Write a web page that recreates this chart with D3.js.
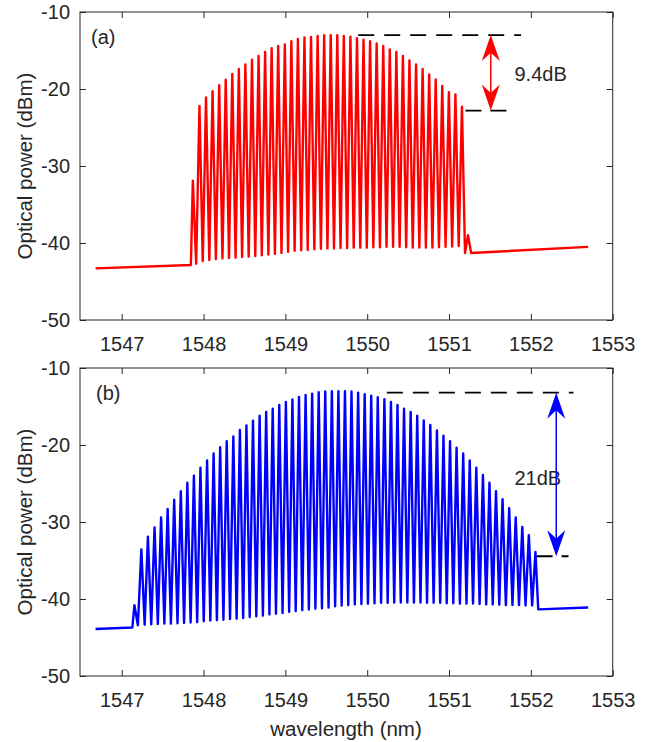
<!DOCTYPE html>
<html>
<head>
<meta charset="utf-8">
<script src="https://cdn.jsdelivr.net/npm/d3@7"></script>
<style>
  body { margin: 0; background: #fff; }
  text { font-family: "Liberation Sans", Arial, Helvetica, sans-serif; fill: #262626; }
</style>
</head>
<body>
<svg id="chart" width="647" height="742"></svg>
<script>
// axis ticks
const xTicks = [1547, 1548, 1549, 1550, 1551, 1552, 1553];
const yTicks = [-50, -40, -30, -20, -10];

// panel (a): comb line wavelengths (nm), peak power and trough power between neighbours (dBm)
const combA_wl = [1547.869,
  1547.950, 1548.030, 1548.110, 1548.191, 1548.271, 1548.351, 1548.431, 1548.511, 1548.592, 1548.672,
  1548.752, 1548.832, 1548.912, 1548.993, 1549.073, 1549.153, 1549.233, 1549.313, 1549.394, 1549.474,
  1549.554, 1549.634, 1549.714, 1549.795, 1549.875, 1549.955, 1550.035, 1550.115, 1550.196, 1550.276,
  1550.356, 1550.436, 1550.516, 1550.597, 1550.677, 1550.757, 1550.837, 1550.917, 1550.998, 1551.078,
  1551.158, 1551.232];
const combA_peak = [-31.9,
  -22.2, -21.1, -20.3, -19.5, -18.8, -18.05, -17.4, -16.8, -16.2, -15.7,
  -15.2, -14.7, -14.4, -14.2, -13.8, -13.5, -13.3, -13.25, -13.1, -13.0,
  -13.0, -13.0, -13.1, -13.2, -13.4, -13.6, -13.8, -14.1, -14.4, -14.85,
  -15.2, -15.7, -16.3, -16.8, -17.4, -18.1, -18.75, -19.6, -20.4, -20.7,
  -22.3, -39.0];
const combA_trough = [-42.7,
  -42.35, -42.2, -42.1, -42.0, -41.95, -41.9, -41.8, -41.75, -41.7, -41.6,
  -41.5, -41.4, -41.3, -41.15, -41.0, -40.95, -40.9, -40.8, -40.75, -40.7,
  -40.7, -40.65, -40.65, -40.6, -40.6, -40.6, -40.55, -40.55, -40.5, -40.5,
  -40.5, -40.55, -40.6, -40.6, -40.6, -40.6, -40.55, -40.5, -40.45, -40.4,
  -41.3];
const floorA_left = [[1546.68, -43.3], [1547.845, -42.85]];
const floorA_right = [[1551.27, -41.3], [1552.70, -40.5]];

// panel (b)
const combB_wl = [1547.155,
  1547.240, 1547.320, 1547.401, 1547.481, 1547.561, 1547.641, 1547.722, 1547.802, 1547.882, 1547.962,
  1548.043, 1548.123, 1548.203, 1548.283, 1548.364, 1548.444, 1548.524, 1548.604, 1548.685, 1548.765,
  1548.845, 1548.925, 1549.006, 1549.086, 1549.166, 1549.247, 1549.327, 1549.407, 1549.487, 1549.568,
  1549.648, 1549.728, 1549.808, 1549.889, 1549.969, 1550.049, 1550.129, 1550.210, 1550.290, 1550.370,
  1550.450, 1550.531, 1550.611, 1550.691, 1550.771, 1550.852, 1550.932, 1551.012, 1551.092, 1551.173,
  1551.253, 1551.333, 1551.414, 1551.494, 1551.574, 1551.654, 1551.735, 1551.815, 1551.895, 1551.975,
  1552.056];
const combB_peak = [-40.8,
  -33.55, -31.9, -30.7, -29.4, -28.3, -27.1, -26.0, -24.9, -24.0, -22.95,
  -22.0, -21.1, -20.3, -19.5, -18.9, -18.05, -17.45, -16.85, -16.2, -15.7,
  -15.3, -14.8, -14.4, -14.1, -13.75, -13.5, -13.35, -13.15, -13.05, -13.0,
  -13.0, -13.0, -13.05, -13.2, -13.4, -13.6, -13.8, -14.05, -14.4, -14.8,
  -15.3, -15.7, -16.2, -16.8, -17.4, -18.1, -18.8, -19.5, -20.35, -21.1,
  -22.0, -22.95, -23.9, -24.9, -26.0, -27.05, -28.2, -29.4, -30.65, -31.7,
  -33.9];
const combB_trough = [-43.4,
  -43.35, -43.3, -43.25, -43.2, -43.2, -43.15, -43.1, -43.05, -43.0, -42.9,
  -42.8, -42.75, -42.7, -42.6, -42.55, -42.45, -42.35, -42.25, -42.15, -42.0,
  -41.9, -41.8, -41.65, -41.55, -41.45, -41.35, -41.25, -41.2, -41.1, -40.95,
  -40.85, -40.8, -40.7, -40.65, -40.6, -40.55, -40.5, -40.5, -40.45, -40.45,
  -40.45, -40.45, -40.45, -40.5, -40.5, -40.5, -40.55, -40.55, -40.6, -40.6,
  -40.6, -40.65, -40.7, -40.7, -40.75, -40.8, -40.8, -40.8, -40.85, -40.85];
const floorB_left = [[1546.68, -43.9], [1547.13, -43.7]];
const floorB_right = [[1552.09, -41.35], [1552.70, -41.1]];

// flatness annotations: [top level, bottom level] in dBm
const flatA = [-13.0, -22.8];
const flatB = [-13.2, -34.45];

const svg = d3.select('#chart');
const left = 80, right = 612.7, plotH = 308;
const x = d3.scaleLinear().domain([1546.49, 1553]).range([left, right]);

function trace(floorL, wl, peak, trough, floorR) {
  const pts = floorL.slice();
  wl.forEach((w, i) => {
    pts.push([w, peak[i]]);
    if (i < trough.length) pts.push([(w + wl[i + 1]) / 2, trough[i]]);
  });
  return pts.concat(floorR);
}

function arrowHead(cx, tipY, dir, len, w) {
  // concave-back arrow head, dir = 1 points up, -1 points down
  const b = tipY + dir * len, m = tipY + dir * len * 0.68;
  return `M${cx},${tipY}L${cx - w / 2},${b}L${cx},${m}L${cx + w / 2},${b}Z`;
}

function drawPanel(top, opts) {
  const y = d3.scaleLinear().domain([-50, -10]).range([top + plotH, top]);
  const g = svg.append('g');

  // spectrum
  const line = d3.line().x(d => x(d[0])).y(d => y(d[1]));
  g.append('path')
    .attr('d', line(opts.data))
    .attr('fill', 'none')
    .attr('stroke', opts.color)
    .attr('stroke-width', 2.4)
    .attr('stroke-linejoin', 'round');

  // axes, MATLAB style with inward ticks on all four sides
  const axB = g.append('g').attr('transform', `translate(0,${top + plotH})`)
    .call(d3.axisBottom(x).tickValues(xTicks).tickSize(-6).tickSizeOuter(0).tickPadding(17).tickFormat(d3.format('d')));
  const axT = g.append('g').attr('transform', `translate(0,${top})`)
    .call(d3.axisTop(x).tickValues(xTicks).tickSize(-6).tickSizeOuter(0).tickFormat(''));
  const axL = g.append('g').attr('transform', `translate(${left},0)`)
    .call(d3.axisLeft(y).tickValues(yTicks).tickSize(-6).tickSizeOuter(0).tickPadding(10));
  const axR = g.append('g').attr('transform', `translate(${right},0)`)
    .call(d3.axisRight(y).tickValues(yTicks).tickSize(-6).tickSizeOuter(0).tickFormat(''));
  [axB, axT, axL, axR].forEach(a => {
    a.select('.domain').remove();
    a.selectAll('.tick line').attr('stroke', '#262626');
    a.selectAll('text').attr('font-size', 20).attr('fill', '#262626');
  });
  axL.selectAll('text').text(d => d);

  g.append('rect')
    .attr('x', left).attr('y', top)
    .attr('width', right - left).attr('height', plotH)
    .attr('fill', 'none').attr('stroke', '#262626').attr('stroke-width', 1);

  g.append('text')
    .attr('transform', `translate(24,${top + plotH / 2}) rotate(-90)`)
    .attr('text-anchor', 'middle').attr('dominant-baseline', 'central')
    .attr('font-size', 20.5)
    .text('Optical power (dBm)');

  g.append('text')
    .attr('x', opts.tagX).attr('y', top + 25)
    .attr('dominant-baseline', 'central')
    .attr('font-size', 20).attr('fill', '#000')
    .text(opts.tag);

  // flatness annotation
  const a = opts.ann;
  g.append('line')
    .attr('x1', x(a.topFrom)).attr('x2', x(a.topTo))
    .attr('y1', y(a.levels[0])).attr('y2', y(a.levels[0]))
    .attr('stroke', '#000').attr('stroke-width', 1.8).attr('stroke-dasharray', '16,10');
  g.append('line')
    .attr('x1', x(a.botFrom)).attr('x2', x(a.botTo))
    .attr('y1', y(a.levels[1])).attr('y2', y(a.levels[1]))
    .attr('stroke', '#000').attr('stroke-width', 1.8).attr('stroke-dasharray', '16,9');

  g.append('text')
    .attr('x', x(a.textX)).attr('y', y(a.textY))
    .attr('dominant-baseline', 'central')
    .attr('font-size', 20).attr('fill', '#000')
    .text(a.text);

  const ax = x(a.arrowX), y1 = y(a.levels[0]), y2 = y(a.levels[1]);
  g.append('line')
    .attr('x1', ax).attr('x2', ax).attr('y1', y1 + 10).attr('y2', y2 - 10)
    .attr('stroke', opts.color).attr('stroke-width', 1.5);
  g.append('path').attr('d', arrowHead(ax, y1, 1, 26, 18)).attr('fill', opts.color);
  g.append('path').attr('d', arrowHead(ax, y2, -1, 26, 18)).attr('fill', opts.color);
}

drawPanel(12, {
  color: '#ff0000', tag: '(a)', tagX: 91,
  data: trace(floorA_left, combA_wl, combA_peak, combA_trough, floorA_right),
  ann: { levels: flatA, topFrom: 1549.89, topTo: 1551.88, botFrom: 1551.20, botTo: 1551.71,
         arrowX: 1551.51, textX: 1551.80, textY: -18.1, text: '9.4dB' }
});

drawPanel(368, {
  color: '#0000ff', tag: '(b)', tagX: 96,
  data: trace(floorB_left, combB_wl, combB_peak, combB_trough, floorB_right),
  ann: { levels: flatB, topFrom: 1550.24, topTo: 1552.52, botFrom: 1552.07, botTo: 1552.46,
         arrowX: 1552.31, textX: 1551.80, textY: -24.3, text: '21dB' }
});

svg.append('text')
  .attr('x', 346).attr('y', 728)
  .attr('text-anchor', 'middle').attr('dominant-baseline', 'central')
  .attr('font-size', 20.5)
  .text('wavelength (nm)');
</script>
</body>
</html>
